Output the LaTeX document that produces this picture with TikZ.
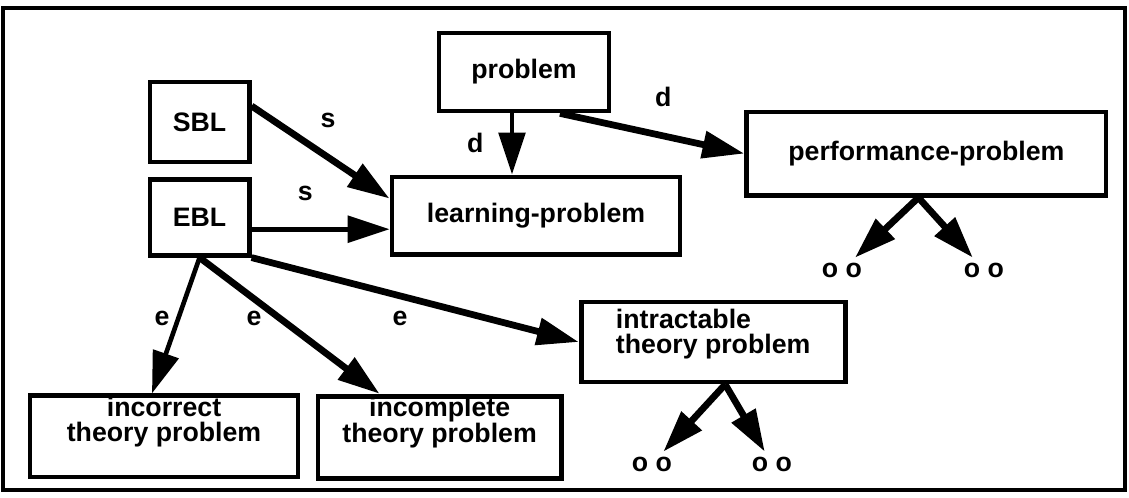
\documentclass[tikz,border=0pt]{standalone}
\usepackage{fontspec}
\setmainfont{Liberation Sans}
\usetikzlibrary{arrows.meta}
\tikzset{
  box/.style     ={draw, line width=3.4pt, align=center, inner sep=0pt,
                   font=\fontsize{19}{18}\selectfont\bfseries},
  % two-line boxes: text sits near the top edge
  twobox/.style  ={box, text height=1.15cm},
  flow/.style    ={-{Triangle[length=10.5mm,width=6.6mm]}, line width=4.8pt},
  thinflow/.style={flow, line width=3.3pt},
  tag/.style     ={font=\fontsize{19}{18}\selectfont\bfseries},
}

\begin{document}
\begin{tikzpicture}
    \useasboundingbox (0,0) rectangle (28.225,-12.45);
    \draw[line width=2.8pt] (0.075,-0.2) rectangle (28.125,-12.25);
    % upper boxes
    \node[box, minimum width=4.25cm, minimum height=1.95cm] (prob) at (13.10,-1.80) {problem};
    \node[box, minimum width=2.48cm, minimum height=2cm] (sbl) at (4.99,-3.05) {SBL};
    \node[box, minimum width=2.48cm, minimum height=1.9cm] (ebl) at (4.99,-5.43) {EBL};
    \node[box, minimum width=7.2cm, minimum height=1.93cm] (learn) at (13.40,-5.39) {learning-problem};
    \node[box, minimum width=8.98cm, minimum height=2.08cm] (perf) at (23.16,-3.84) {performance-problem};
    % theory problems
    \node[twobox, align=left, minimum width=6.6cm, minimum height=2cm, text height=1.3cm, text depth=0.7cm] (intr) at (17.83,-8.55) {intractable\\theory problem};
    \node[twobox, minimum width=6.7cm, minimum height=2.03cm, text depth=0.88cm] (incor) at (4.10,-10.91) {incorrect\\theory problem};
    \node[twobox, minimum width=6.08cm, minimum height=2.05cm, text depth=0.9cm] (incom) at (10.99,-10.93) {incomplete\\theory problem};
    % leaves
    \node[tag] (pl) at (21.05,-6.75) {o o};
    \node[tag] (pr) at (24.6,-6.75) {o o};
    \node[tag] (il) at (16.3,-11.6) {o o};
    \node[tag] (ir) at (19.3,-11.6) {o o};
    % links
    \draw[flow] ([yshift=4mm]sbl.east) -- ([yshift=-6mm]learn.north west);
    \draw[thinflow] ([yshift=-3mm]ebl.east) -- ([yshift=-3mm]ebl.east -| learn.west);
    \draw[thinflow] ([xshift=-3mm]prob.south) -- ([xshift=-3mm]prob.south |- learn.north);
    \draw[flow] ([xshift=9mm]prob.south) -- (perf.west);
    \draw[thinflow] (ebl.south) -- ([xshift=-3mm]incor.north);
    \draw[flow] (ebl.south) -- ([xshift=-1.5cm]incom.north);
    \draw[flow] (ebl.south east) -- (intr.west);
    \draw[flow] ([xshift=-2mm]perf.south) -- (pl);
    \draw[flow] ([xshift=-2mm]perf.south) -- (pr);
    \draw[flow] ([xshift=3mm]intr.south) -- (il);
    \draw[flow] ([xshift=3mm]intr.south) -- (ir);
    % link labels
    \node[tag] (s1) at (8.2,-3.0) {s};
    \node[tag] (s2) at (7.63,-4.83) {s};
    \node[tag] (d1) at (11.88,-3.58) {d};
    \node[tag] (d2) at (16.58,-2.43) {d};
    \node[tag] (e1) at (4.05,-7.95) {e};
    \node[tag] (e2) at (6.35,-7.95) {e};
    \node[tag] (e3) at (10.0,-7.95) {e};
\end{tikzpicture}
\end{document}
